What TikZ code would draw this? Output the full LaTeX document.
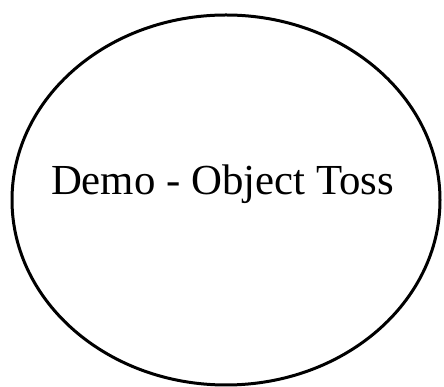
\documentclass[tikz,border=0pt]{standalone}
\usepackage{fontspec}
\setmainfont{Liberation Serif}
\begin{document}
\begin{tikzpicture}[x=1pt,y=1pt]
\useasboundingbox (0,0) rectangle (444,387);
\tikzset{outline/.style={draw=black,line width=3pt}}
\draw[outline] (226,187) ellipse [x radius=214, y radius=185];
\node[inner sep=0pt,anchor=base,font=\fontsize{42.8}{50}\selectfont] (title) at (222.5,192) {Demo - Object Toss};
\end{tikzpicture}
\end{document}
